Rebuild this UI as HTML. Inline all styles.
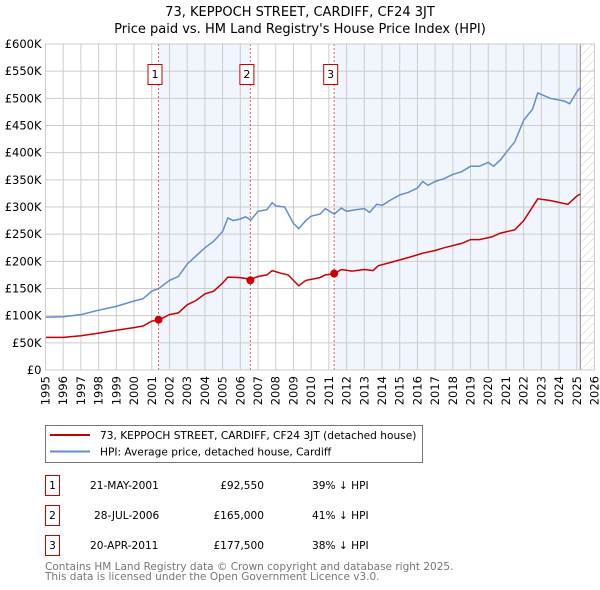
<!DOCTYPE html>
<html><head><meta charset="utf-8"><style>
body{margin:0;background:#fff;}
svg{display:block;font-family:"DejaVu Sans","Liberation Sans",sans-serif;}
</style></head><body>
<svg id="chart" width="600" height="590" viewBox="0 0 600 590" xmlns="http://www.w3.org/2000/svg">
<text x="300" y="16" text-anchor="middle" font-size="13">73, KEPPOCH STREET, CARDIFF, CF24 3JT</text>
<text x="300" y="33" text-anchor="middle" font-size="13">Price paid vs. HM Land Registry's House Price Index (HPI)</text>
<g id="plot"></g>
<g>
<rect x="45.5" y="425.5" width="377" height="37" fill="#fff" stroke="#777"/>
<line x1="50" y1="435" x2="90" y2="435" stroke="#cc0000" stroke-width="2"/>
<text x="100" y="439" font-size="10.6">73, KEPPOCH STREET, CARDIFF, CF24 3JT (detached house)</text>
<line x1="50" y1="451.5" x2="90" y2="451.5" stroke="#5f8fd0" stroke-width="2"/>
<text x="100" y="455.5" font-size="10.6">HPI: Average price, detached house, Cardiff</text>
</g>
<g font-size="10.6">
<g><rect x="45.5" y="475.5" width="14" height="20" fill="#fff" stroke="#cc0000"/><text x="52.5" y="489" text-anchor="middle">1</text><text x="90" y="489">21-MAY-2001</text><text x="264" y="489" text-anchor="end">£92,550</text><text x="312" y="489">39% ↓ HPI</text></g>
<g><rect x="45.5" y="505.5" width="14" height="20" fill="#fff" stroke="#cc0000"/><text x="52.5" y="519" text-anchor="middle">2</text><text x="94" y="519">28-JUL-2006</text><text x="264" y="519" text-anchor="end">£165,000</text><text x="312" y="519">41% ↓ HPI</text></g>
<g><rect x="45.5" y="535.5" width="14" height="20" fill="#fff" stroke="#cc0000"/><text x="52.5" y="549" text-anchor="middle">3</text><text x="90" y="549">20-APR-2011</text><text x="264" y="549" text-anchor="end">£177,500</text><text x="312" y="549">38% ↓ HPI</text></g>
</g>
<text x="45" y="570" font-size="10.5" fill="#777">Contains HM Land Registry data © Crown copyright and database right 2025.</text>
<text x="45" y="580" font-size="10.5" fill="#777">This data is licensed under the Open Government Licence v3.0.</text>
</svg>
<script>
const hpiYears=[1995,1996,1997,1998,1999,2000,2000.5,2001,2001.4,2002,2002.5,2003,2003.5,2004,2004.5,2005,2005.3,2005.6,2006,2006.3,2006.6,2007,2007.5,2007.8,2008,2008.5,2009,2009.3,2009.7,2010,2010.5,2010.8,2011.3,2011.7,2012,2012.5,2013,2013.3,2013.7,2014,2014.5,2015,2015.5,2016,2016.3,2016.6,2017,2017.5,2018,2018.5,2019,2019.5,2020,2020.3,2020.7,2021,2021.5,2022,2022.5,2022.8,2023.5,2024.3,2024.6,2025,2025.2];
const hpiValues=[97,98,102,110,117,127,131,145,150,165,172,195,210,225,237,255,280,275,278,282,276,292,295,308,302,300,270,260,275,283,287,297,287,298,292,295,297,290,305,303,313,322,327,335,347,340,347,352,360,365,375,375,382,375,387,400,420,460,480,510,500,495,490,512,520];
const priceYears=[1995,1996,1997,1998,1999,2000,2000.5,2001,2001.4,2002,2002.5,2003,2003.5,2004,2004.5,2005,2005.3,2006,2006.6,2007,2007.5,2007.8,2008.3,2008.7,2009.3,2009.7,2010.5,2010.8,2011.3,2011.7,2012.3,2013,2013.5,2013.8,2014.5,2015.5,2016.3,2017,2017.5,2018.5,2019,2019.5,2020.2,2020.7,2021.5,2022,2022.8,2023.5,2024.5,2025,2025.2];
const priceValues=[60,60,63,68,73,78,81,90,92,102,105,120,128,140,145,160,171,170,167,172,175,183,178,175,155,165,170,175,177,185,182,185,183,192,198,207,215,220,225,233,240,240,245,252,258,275,315,312,305,320,324];
const saleYears=[2001.38,2006.57,2011.3];
const saleValues=[92.55,165,177.5];
const saleLabels=["1","2","3"];
const yTicks=[0,50,100,150,200,250,300,350,400,450,500,550,600];
const xTicks=[1995,1996,1997,1998,1999,2000,2001,2002,2003,2004,2005,2006,2007,2008,2009,2010,2011,2012,2013,2014,2015,2016,2017,2018,2019,2020,2021,2022,2023,2024,2025,2026];
const L=45.5,R=594.5,T=44,B=370;
const x=y=>L+(y-1995)/(2026-1995)*(R-L);
const yv=v=>B-v/600*(B-T);
const NS="http://www.w3.org/2000/svg";
const g=document.getElementById('plot');
function mk(t,a,p){const e=document.createElementNS(NS,t);for(const k in a)e.setAttribute(k,a[k]);(p||g).appendChild(e);return e;}
const endY=2025.2;
let s1=mk('rect',{x:x(saleYears[0]),y:T,width:x(saleYears[1])-x(saleYears[0]),height:B-T,fill:'#eef2fc',opacity:0.8});


let s2=mk('rect',{x:x(saleYears[2]),y:T,width:x(endY)-x(saleYears[2]),height:B-T,fill:'#eef2fc',opacity:0.8});


const defs=mk('defs',{});
const pat=mk('pattern',{id:'hatch',width:6,height:6,patternUnits:'userSpaceOnUse',patternTransform:'rotate(45)'},defs);
mk('line',{x1:0,y1:0,x2:0,y2:6,stroke:'#ccc','stroke-width':1},pat);
let h=mk('rect',{x:x(endY),y:T,width:R-x(endY),height:B-T,fill:'url(#hatch)'});


yTicks.forEach(v=>{
  let l=mk('line',{x1:L,x2:R,y1:yv(v),y2:yv(v),stroke:'#ccc'});
  
  
  let t=mk('text',{x:L-4,y:yv(v)+4,'text-anchor':'end','font-size':11.5});
  
  
  t.textContent=v===0?'£0':'£'+v+'K';
});
xTicks.forEach(yr=>{
  let l=mk('line',{x1:x(yr),x2:x(yr),y1:T,y2:B,stroke:'#ccc'});
  
  
  let t=mk('text',{x:0,y:0,'text-anchor':'end','font-size':11.5,transform:`translate(${x(yr)+4},${B+6}) rotate(-90)`});
  
  
  t.textContent=yr;
});
let el=mk('line',{x1:x(endY),x2:x(endY),y1:T,y2:B,stroke:'#888'});


saleYears.forEach((yr,i)=>{
  let l=mk('line',{x1:x(yr),x2:x(yr),y1:T,y2:B,stroke:'#e06060','stroke-dasharray':'2,2'});
  
  
});
function path(xs,vs,c,name){
  let d=xs.map((yr,i)=>(i?'L':'M')+x(yr).toFixed(1)+','+yv(vs[i]).toFixed(1)).join('');
  let p=mk('path',{d:d,fill:'none',stroke:c,'stroke-width':1.5});
  
  
}
path(hpiYears,hpiValues,'#5f8fd0','hpi-line');
path(priceYears,priceValues,'#cc0000','price-line');
saleYears.forEach((yr,i)=>{
  let c=mk('circle',{cx:x(yr),cy:yv(saleValues[i]),r:4,fill:'#cc0000'});
  
  
  let b=mk('rect',{x:x(yr)-10.5,y:64.5,width:14,height:20,fill:'#fff',stroke:'#cc0000'});
  
  
  let t=mk('text',{x:x(yr)-3.5,y:78,'text-anchor':'middle','font-size':11});
  
  
  t.textContent=saleLabels[i];
});
let fr=mk('rect',{x:L,y:T,width:R-L,height:B-T,fill:'none',stroke:'#ccc'});


</script>
</body></html>
